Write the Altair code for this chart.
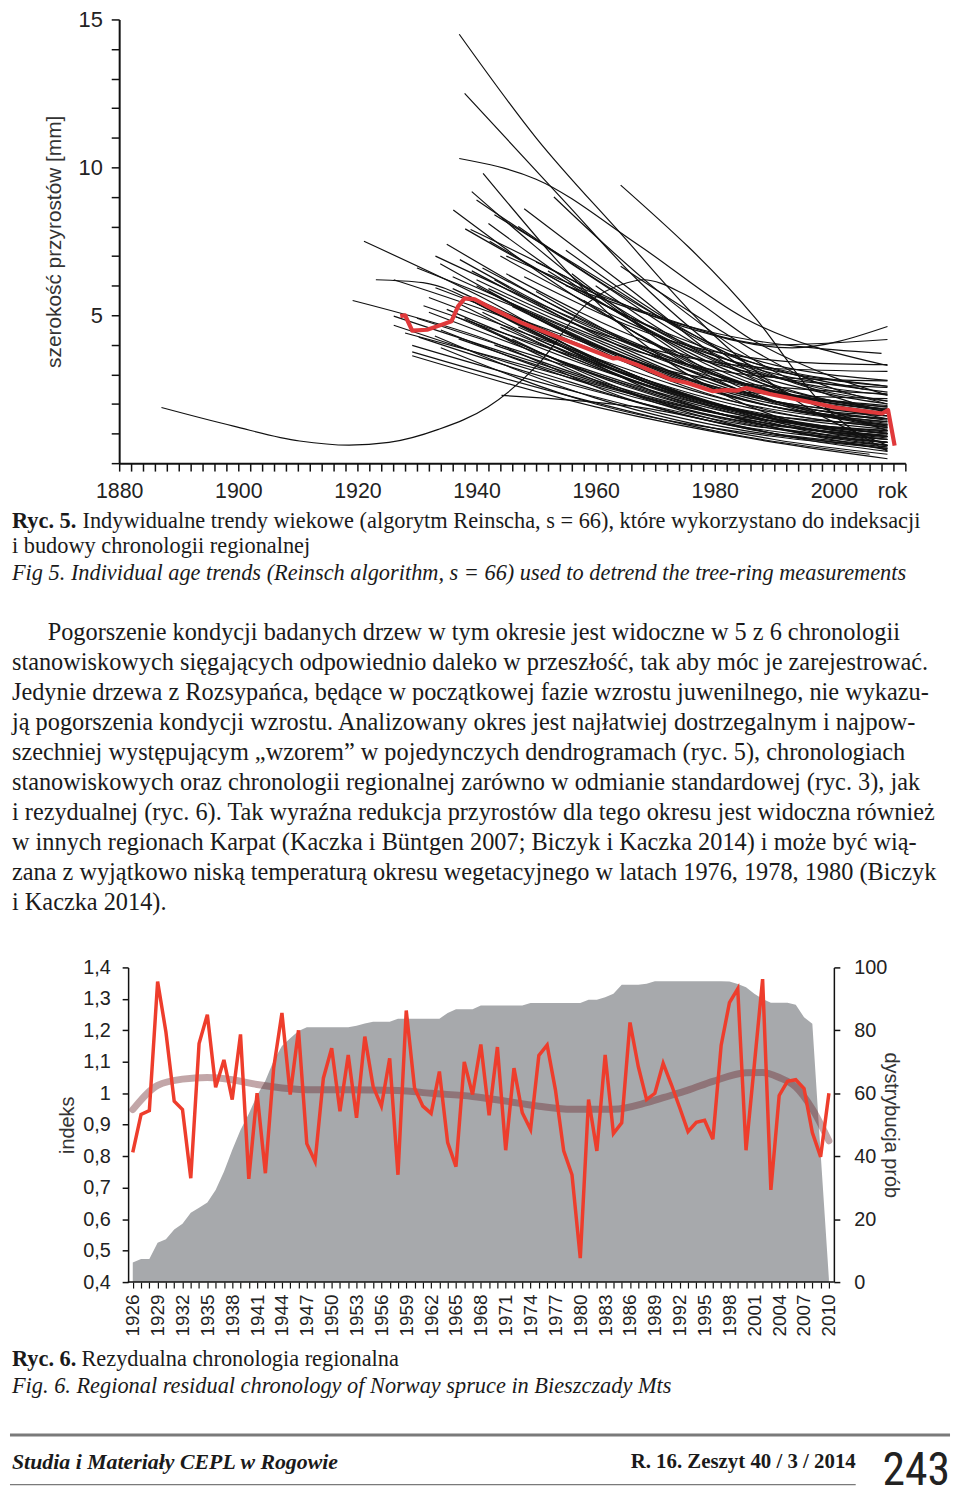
import altair as alt
import pandas as pd

SANS = "Liberation Sans, Arial, Helvetica, sans-serif"
SERIF = "Liberation Serif, Times New Roman, serif"
NARROW = "Liberation Sans Narrow, Roboto Condensed, DejaVu Sans Condensed, Liberation Sans, sans-serif"

# ---------------- Fig. 5 : individual age trends ----------------
mean_years = [1927.2, 1928.0, 1929.2, 1931.7, 1933.6, 1935.8, 1936.9, 1938.0, 1939.7, 1941.9,
              1947.5, 1955.8, 1963.0, 1963.6, 1966.9, 1972.6, 1975.3, 1979.7, 1981.9, 1983.6,
              1985.3, 1989.2, 1994.7, 2000.3, 2008.1, 2009.1, 2010.2]
mean_vals = [4.97, 5.0, 4.48, 4.51, 4.64, 4.8, 5.3, 5.57, 5.54, 5.3,
             4.75, 4.09, 3.54, 3.56, 3.33, 2.83, 2.72, 2.43, 2.47, 2.45,
             2.54, 2.34, 2.12, 1.88, 1.68, 1.79, 0.59]

age_trends = [
    [(1887.1, 1.88), (1899.2, 1.25), (1910.3, 0.75), (1918.6, 0.61), (1925.3, 0.70), (1933.6, 1.14),
     (1941.9, 1.9), (1950.3, 3.33), (1958.6, 5.4), (1965.3, 6.1), (1968, 6.2), (1975, 5.7),
     (1986, 4.2), (2000, 2.9), (2009, 2.3)],
    [(1921.1, 7.5), (1940, 5.7), (1965, 3.0), (1990, 1.5), (2009, 1.0)],
    [(1923.1, 6.2), (1931, 6.1), (1945, 4.9), (1970, 2.4), (1995, 1.0), (2009, 0.6)],
    [(1919.2, 5.5), (1940, 4.3), (1965, 2.2), (1990, 1.0), (2009, 0.5)],
    [(1926.1, 6.2), (1945, 4.9), (1970, 2.7), (1995, 1.3), (2009, 0.9)],
    [(1926.1, 4.97), (1950, 3.4), (1980, 1.6), (2009, 0.9)],
    [(1926.1, 4.66), (1950, 3.1), (1980, 1.4), (2009, 0.7)],
    [(1930.3, 4.26), (1955, 2.7), (1985, 1.3), (2009, 0.8)],
    [(1929.2, 3.98), (1955, 2.5), (1985, 1.1), (2009, 0.55)],
    [(1929.2, 3.76), (1955, 2.3), (1985, 0.9), (2006, 0.3)],
    [(1929.2, 3.63), (1960, 1.9), (1990, 0.7), (2009, 0.15)],
    [(1931.1, 5.32), (1955, 3.7), (1985, 1.9), (2009, 1.2)],
    [(1933.1, 5.93), (1955, 4.3), (1985, 2.3), (2009, 1.6)],
    [(1933.1, 7.0), (1955, 5.0), (1985, 2.7), (2009, 1.8)],
    [(1933.9, 6.74), (1960, 4.0), (1990, 1.9), (2009, 1.3)],
    [(1935.0, 7.4), (1960, 4.6), (1990, 2.1), (2009, 1.45)],
    [(1936.1, 8.56), (1960, 5.2), (1985, 2.7), (2009, 1.9)],
    [(1937.2, 6.88), (1960, 4.5), (1990, 2.4), (2009, 1.75)],
    [(1938.1, 7.92), (1960, 5.5), (1985, 3.3), (2009, 2.4)],
    [(1939.2, 9.18), (1960, 5.7), (1985, 2.5), (2009, 1.25)],
    [(1939.2, 6.5), (1960, 4.4), (1985, 2.6), (2009, 1.95)],
    [(1941.1, 9.8), (1967, 4.2), (1990, 1.6), (2009, 0.9)],
    [(1942.2, 7.5), (1965, 5.0), (1990, 3.2), (2009, 2.6)],
    [(1937.1, 10.3), (1950, 9.6), (1967, 7.4), (1985, 4.9), (2009, 3.3)],
    [(1937.1, 14.5), (1950, 11.0), (1963.6, 7.9), (1980, 4.3), (1997, 1.7), (2009, 0.6)],
    [(1938.0, 12.5), (1955, 8.8), (1967, 6.2), (1985, 3.2), (2009, 1.1)],
    [(1964.2, 9.4), (1987, 4.86), (1998, 2.0), (2009, 0.4)],
    [(1964.2, 6.66), (1980, 4.6), (1995, 2.9), (2009, 2.0)],
    [(1944.2, 2.29), (1967, 1.9), (1990, 1.0), (2009, 0.6)],
    [(1928, 4.4), (1950, 3.2), (1980, 1.7), (2009, 1.1)],
    [(1930, 4.9), (1955, 3.3), (1985, 1.6), (2009, 1.0)],
    [(1932, 5.6), (1955, 3.9), (1985, 2.0), (2009, 1.35)],
    [(1934, 4.5), (1960, 2.6), (1990, 1.2), (2009, 0.7)],
    [(1935, 5.2), (1960, 3.2), (1990, 1.5), (2009, 1.05)],
    [(1936, 5.9), (1960, 3.8), (1990, 1.9), (2009, 1.5)],
    [(1937, 4.2), (1960, 2.7), (1990, 1.3), (2009, 0.85)],
    [(1938, 5.6), (1960, 3.5), (1990, 1.4), (2009, 0.7)],
    [(1939, 4.8), (1965, 2.6), (1990, 1.3), (2009, 0.9)],
    [(1940, 6.0), (1965, 3.5), (1990, 1.9), (2009, 1.4)],
    [(1940, 5.4), (1965, 3.0), (1990, 1.5), (2009, 1.0)],
    [(1941, 6.6), (1965, 4.2), (1990, 2.4), (2009, 1.8)],
    [(1942, 5.8), (1965, 3.6), (1990, 2.0), (2009, 1.6)],
    [(1943, 6.2), (1968, 3.6), (1990, 2.1), (2009, 1.7)],
    [(1944, 7.0), (1965, 4.8), (1990, 2.9), (2009, 2.3)],
    [(1945, 6.4), (1970, 4.0), (1990, 2.9), (2009, 2.56)],
    [(1946, 5.3), (1975, 3.0), (2009, 2.34)],
    [(1947, 8.0), (1965, 5.6), (1985, 3.6), (2009, 2.8)],
    [(1948, 6.3), (1975, 4.0), (1995, 3.4), (2009, 3.33)],
    [(1950, 6.8), (1975, 4.6), (1993, 3.9), (2009, 4.62)],
    [(1945, 7.0), (1970, 5.0), (1990, 4.0), (2009, 4.18)],
    [(1955, 6.0), (1980, 4.4), (2008, 3.71)],
    [(1940, 6.2), (1965, 4.1), (1990, 3.2), (2009, 3.1)],
    [(1942, 5.9), (1970, 3.6), (1990, 2.9), (2009, 2.78)],
    [(1936, 6.3), (1960, 4.2), (1985, 2.4), (2009, 2.18)],
    [(1943, 4.0), (1970, 2.2), (2000, 1.0), (2009, 0.8)],
    [(1945, 5.0), (1970, 2.7), (1995, 1.3), (2009, 1.1)],
    [(1947, 4.6), (1975, 2.3), (2000, 1.1), (2009, 0.95)],
    [(1950, 5.8), (1975, 3.2), (2000, 1.6), (2009, 1.4)],
    [(1952, 6.5), (1975, 3.9), (2000, 2.1), (2009, 1.9)],
    [(1955, 7.2), (1975, 4.5), (1995, 2.6), (2009, 2.1)],
    [(1958, 5.5), (1980, 3.0), (2009, 1.7)],
    [(1960, 6.0), (1980, 3.5), (2000, 2.3), (2009, 2.0)],
    [(1948, 8.6), (1965, 6.0), (1985, 3.0), (2009, 1.5)],
    [(1943, 8.4), (1960, 6.3), (1980, 3.9), (2005, 2.5)],
    [(1939, 7.9), (1955, 6.3), (1975, 4.0), (2000, 2.8), (2009, 2.6)],
    [(1936, 5.0), (1960, 3.0), (1990, 1.2), (2009, 0.45)],
    [(1933, 4.3), (1960, 2.2), (1990, 0.8), (2009, 0.3)],
    [(1938, 4.9), (1965, 2.4), (1995, 0.8), (2009, 0.4)],
    [(1941, 5.1), (1965, 2.9), (1995, 1.2), (2009, 0.8)],
    [(1944, 4.6), (1970, 2.5), (2000, 0.9), (2009, 0.6)],
    [(1930, 6.6), (1950, 5.0), (1975, 2.9), (2000, 1.7), (2009, 1.5)],
    [(1932, 5.1), (1955, 3.4), (1980, 1.9), (2009, 1.3)],
    [(1953, 9.0), (1970, 5.9), (1990, 3.1), (2009, 1.7)],
    [(1940, 8.9), (1960, 6.2), (1980, 3.7), (2009, 2.1)],
    [(1942, 8.1), (1962, 5.3), (1985, 2.9), (2009, 1.8)],
    [(1962, 5.0), (1985, 2.4), (2009, 1.2)],
    [(1950, 4.2), (1975, 2.3), (2000, 1.2), (2009, 1.0)],
    [(1934, 3.9), (1960, 2.0), (1990, 0.9), (2009, 0.5)],
    [(1946, 4.2), (1970, 2.1), (1995, 1.0), (2009, 0.7)],
    [(1937, 5.4), (1962, 3.1), (1990, 1.6), (2009, 1.15)],
    [(1949, 5.0), (1975, 2.6), (2000, 1.4), (2009, 1.25)],
    [(1956, 6.4), (1978, 3.4), (2000, 2.0), (2009, 1.85)],
]

top_x_ticks = list(range(1880, 2013, 2))
top_y_ticks = list(range(0, 16))

# ---------------- Fig. 6 : residual regional chronology ----------------
res_years = list(range(1926, 2011))
res_index = [0.812, 0.933, 0.945, 1.355, 1.195, 0.975, 0.948, 0.73, 1.158, 1.25,
             1.019, 1.106, 0.98, 1.187, 0.728, 1.0, 0.746, 1.08, 1.255, 0.996,
             1.2, 0.84, 0.783, 1.048, 1.143, 0.943, 1.122, 0.922, 1.18, 1.022,
             0.959, 1.111, 0.741, 1.263, 1.017, 0.959, 0.936, 1.069, 0.843, 0.767,
             1.1, 0.996, 1.155, 0.93, 1.147, 0.819, 1.08, 0.938, 0.885, 1.12,
             1.153, 1.011, 0.817, 0.741, 0.476, 0.98, 0.817, 1.122, 0.872, 0.906,
             1.225, 1.085, 0.98, 1.0, 1.095, 1.027, 0.954, 0.878, 0.908, 0.914,
             0.854, 1.153, 1.288, 1.332, 0.819, 1.09, 1.363, 0.693, 0.993, 1.038,
             1.043, 1.015, 0.875, 0.798, 1.0]
sample_depth = [6.2, 7.3, 7.3, 12.5, 13.6, 16.7, 18.5, 22, 23.6, 25.3,
                29.3, 35.1, 42, 48.3, 53.5, 59.3, 64, 70.3, 75, 77.5,
                79.8, 81, 81, 81, 81, 81, 81, 81.5, 82.2, 82.7,
                82.7, 82.7, 83.7, 83.7, 83.7, 83.7, 83.7, 83.7, 85.5, 86.7,
                86.7, 86.7, 87.9, 87.9, 87.9, 87.9, 87.9, 87.9, 88.7, 88.7,
                88.7, 88.7, 88.7, 88.7, 88.7, 89.7, 89.7, 90.5, 91.6, 94.5,
                94.5, 94.5, 94.8, 95.6, 95.6, 95.6, 95.6, 95.6, 95.6, 95.6,
                95.6, 95.6, 95.5, 94.7, 93.7, 91.6, 90, 88.8, 88.8, 88.8,
                88.1, 84.2, 82.1, 41, 1]
spline_years = [1926, 1929, 1932, 1935, 1938, 1941, 1944, 1948, 1952, 1958, 1962, 1967, 1971,
                1975, 1979, 1984, 1988, 1990, 1993, 1996, 2000, 2002, 2004, 2006, 2008, 2010]
spline_vals = [0.948, 1.025, 1.045, 1.05, 1.043, 1.028, 1.017, 1.011, 1.011, 1.009, 1.0, 0.99, 0.975,
               0.959, 0.949, 0.949, 0.97, 0.986, 1.01, 1.038, 1.065, 1.066, 1.05, 1.02, 0.95, 0.849]
idx_ticks = [0.4, 0.5, 0.6, 0.7, 0.8, 0.9, 1.0, 1.1, 1.2, 1.3, 1.4]
depth_ticks = [0, 20, 40, 60, 80, 100]

# ---------------- texts ----------------
cap5_bold = "Ryc. 5."
cap5_rest = "Indywidualne trendy wiekowe (algorytm Reinscha, s = 66), które wykorzystano do indeksacji"
cap5_line2 = "i budowy chronologii regionalnej"
cap5_en = "Fig 5. Individual age trends (Reinsch algorithm, s = 66) used to detrend the tree-ring measurements"
paragraph = [
    "Pogorszenie kondycji badanych drzew w tym okresie jest widoczne w 5 z 6 chronologii",
    "stanowiskowych sięgających odpowiednio daleko w przeszłość, tak aby móc je zarejestrować.",
    "Jedynie drzewa z Rozsypańca, będące w początkowej fazie wzrostu juwenilnego, nie wykazu-",
    "ją pogorszenia kondycji wzrostu. Analizowany okres jest najłatwiej dostrzegalnym i najpow-",
    "szechniej występującym „wzorem” w pojedynczych dendrogramach (ryc. 5), chronologiach",
    "stanowiskowych oraz chronologii regionalnej zarówno w odmianie standardowej (ryc. 3), jak",
    "i rezydualnej (ryc. 6). Tak wyraźna redukcja przyrostów dla tego okresu jest widoczna również",
    "w  innych regionach Karpat (Kaczka i Büntgen 2007; Biczyk i Kaczka 2014) i może być wią-",
    "zana z wyjątkowo niską temperaturą okresu wegetacyjnego w latach 1976, 1978, 1980 (Biczyk",
    "i Kaczka 2014).",
]
cap6_bold = "Ryc. 6."
cap6_rest = "Rezydualna chronologia regionalna"
cap6_en = "Fig. 6. Regional residual chronology of Norway spruce in Bieszczady Mts"
footer_left = "Studia i Materiały CEPL w Rogowie"
footer_mid = "R. 16. Zeszyt 40 / 3 / 2014"
page_no = "243"

# ================= top chart =================
W_TOP, H_TOP = 792, 447
rows = []
for i, pts in enumerate(age_trends):
    for j, (yr, v) in enumerate(pts):
        rows.append({"tree": i, "k": j, "year": yr, "w": v})
trend_df = pd.DataFrame(rows)
mean_df = pd.DataFrame({"year": mean_years, "w": mean_vals})

x_top = alt.X("year:Q", title=None,
              scale=alt.Scale(domain=[1880, 2012], nice=False, zero=False),
              axis=alt.Axis(values=top_x_ticks,
                            labelExpr="datum.value % 20 == 0 && datum.value <= 2000 ? '' + datum.value : ''",
                            labelFlush=False, labelOverlap=False, tickSize=8, tickWidth=1.5,
                            domainWidth=2, labelFontSize=21.5, labelPadding=10))
y_top = alt.Y("w:Q", title="szerokość przyrostów [mm]",
              scale=alt.Scale(domain=[0, 15], nice=False),
              axis=alt.Axis(values=top_y_ticks,
                            labelExpr="datum.value % 5 == 0 && datum.value > 0 ? '' + datum.value : ''",
                            labelOverlap=False, tickSize=8, tickWidth=1.5, domainWidth=2,
                            labelFontSize=22, labelPadding=9, titleFontSize=21, titlePadding=14))

trends = alt.Chart(trend_df).mark_line(color="#111111", strokeWidth=1.2, interpolate="monotone").encode(
    x=x_top, y=y_top, detail="tree:N", order="k:Q")
mean_line = alt.Chart(mean_df).mark_line(color="#e0393b", strokeWidth=4.2, strokeJoin="round").encode(
    x=x_top, y=y_top)
rok = alt.Chart(pd.DataFrame({"t": ["rok"]})).mark_text(
    align="right", baseline="middle", fontSize=21.5, font=SANS, color="#222").encode(
    x=alt.value(W_TOP + 2), y=alt.value(H_TOP + 29), text="t:N")
top = alt.layer(trends, mean_line, rok).properties(width=W_TOP, height=H_TOP)


def txt(s, x, y, size, weight="normal", style="normal", font=SERIF, align="left", color="#1a1a1a"):
    return alt.Chart(pd.DataFrame({"t": [s]})).mark_text(
        align=align, baseline="middle", fontSize=size, fontWeight=weight, fontStyle=style,
        font=font, color=color).encode(x=alt.value(x), y=alt.value(y), text="t:N")


L = -108  # left text edge relative to plot origin
panel1_layers = [
    txt(cap5_bold, L, 18, 22.5, weight="bold"),
    txt(cap5_rest, L + 71, 18, 22.5),
    txt(cap5_line2, L, 44, 22.5),
    txt(cap5_en, L, 71, 22.5, style="italic"),
]
for i, line in enumerate(paragraph):
    panel1_layers.append(txt(line, L + (36 if i == 0 else 0), 131 + 30.2 * i, 24.5))
panel1 = alt.layer(*panel1_layers).properties(width=W_TOP, height=458)

# ================= bottom chart =================
W_B, H_B = 720, 317
bot_df = pd.DataFrame({"year": res_years, "idx": res_index, "n": sample_depth})
spl_df = pd.DataFrame({"year": spline_years, "idx": spline_vals})
base_df = pd.DataFrame({"x0": [1925.4], "x1": [2010.6], "y0": [0.4]})

xb_scale = alt.Scale(domain=[1924.36, 2010.6], nice=False, zero=False)
xb_axis = alt.Axis(values=res_years,
                   labelExpr="(datum.value - 1926) % 3 == 0 ? '' + datum.value : ''",
                   labelAngle=-90, labelFlush=False, labelOverlap=False, domain=False,
                   tickSize=6, tickWidth=1.2, labelFontSize=19, labelPadding=6)
yi_scale = alt.Scale(domain=[0.4, 1.4], nice=False, zero=False)
yi_axis = alt.Axis(orient="left", offset=-9, values=idx_ticks,
                   labelExpr="datum.value == 1 ? '1' : replace(format(datum.value, '.1f'), '.', ',')",
                   tickSize=6, tickWidth=1.5, domainWidth=1.5, labelFontSize=20, labelPadding=12,
                   titleFontSize=20, titlePadding=5)

area = alt.Chart(bot_df).mark_area(color="#a7a9ac", interpolate="linear").encode(
    x=alt.X("year:Q", title=None, scale=xb_scale, axis=xb_axis),
    y=alt.Y("n:Q", title="dystrybucja prób", scale=alt.Scale(domain=[0, 100], nice=False),
            axis=alt.Axis(orient="right", values=depth_ticks, tickSize=6, tickWidth=1.5,
                          domainWidth=1.5, labelFontSize=20, labelPadding=14,
                          titleFontSize=20, titlePadding=-6)))
spline = alt.Chart(spl_df).mark_line(color="#6e2c30", opacity=0.42, strokeWidth=7,
                                     interpolate="monotone", strokeCap="round").encode(
    x=alt.X("year:Q", title=None, scale=xb_scale, axis=xb_axis),
    y=alt.Y("idx:Q", title="indeks", scale=yi_scale, axis=yi_axis))
red = alt.Chart(bot_df).mark_line(color="#ee3d2c", strokeWidth=3.5).encode(
    x=alt.X("year:Q", title=None, scale=xb_scale, axis=xb_axis),
    y=alt.Y("idx:Q", title="indeks", scale=yi_scale, axis=yi_axis))
base = alt.Chart(base_df).mark_rule(color="#111", strokeWidth=1.5).encode(
    x=alt.X("x0:Q", title=None, scale=xb_scale, axis=xb_axis), x2="x1:Q",
    y=alt.Y("y0:Q", title="indeks", scale=yi_scale, axis=yi_axis))
bottom = alt.layer(area, alt.layer(spline, red, base)).resolve_scale(y="independent").properties(
    width=W_B, height=H_B)

# ================= footer panel =================
panel2 = alt.layer(
    txt(cap6_bold, L, 23, 22.5, weight="bold"),
    txt(cap6_rest, L + 70, 23, 22.5),
    txt(cap6_en, L, 50, 22.5, style="italic"),
    alt.Chart(pd.DataFrame({"a": [0]})).mark_rule(color="#7a7a7a", strokeWidth=3).encode(
        x=alt.value(L - 2), x2=alt.value(837), y=alt.value(99)),
    txt(footer_left, L, 126, 22, weight="bold", style="italic"),
    txt(footer_mid, 742, 126, 21, weight="bold", align="right"),
    alt.Chart(pd.DataFrame({"a": [0]})).mark_rule(color="#7a7a7a", strokeWidth=1.2).encode(
        x=alt.value(L - 2), x2=alt.value(742), y=alt.value(149)),
    alt.Chart(pd.DataFrame({"t": [page_no]})).mark_text(
        align="right", baseline="alphabetic", fontSize=46, font=NARROW, color="#222").encode(
        x=alt.value(837), y=alt.value(149), text="t:N"),
).properties(width=W_TOP, height=150)

chart = alt.vconcat(top, panel1, bottom, panel2, spacing=0).properties(
    padding={"left": 0, "top": -5, "right": 0, "bottom": 0}, background="white"
).configure_view(strokeWidth=0, stroke=None).configure_axis(
    labelFont=SANS, titleFont=SANS, labelColor="#222", titleColor="#333",
    domainColor="#111", tickColor="#111", grid=False, titleFontWeight="normal"
)

chart.save("out.html", embed_options={"renderer": "svg", "actions": False})
